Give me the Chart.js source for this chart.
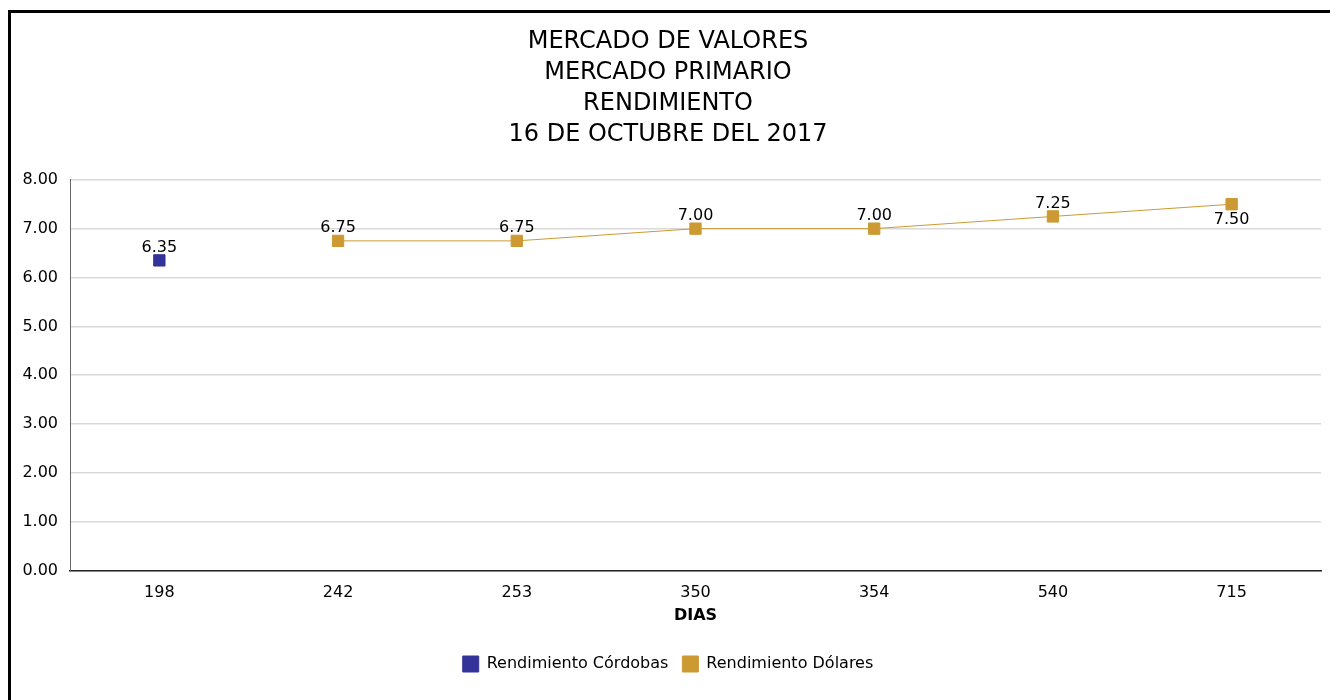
<!DOCTYPE html>
<html>
<head>
<meta charset="utf-8">
<script src="https://cdn.jsdelivr.net/npm/chart.js@4/dist/chart.umd.min.js"></script>
<style>
  body { margin: 0; background: #fff; overflow: hidden; }
  .frame { position: absolute; left: 8px; top: 10px; width: 1400px; height: 800px; border: 3px solid #000; }
  .wrap { position: absolute; left: 0; top: 0; width: 1330px; height: 700px; }
</style>
</head>
<body>
<div class="frame"></div>
<div class="wrap"><canvas id="myChart"></canvas></div>
<script>
const dias = ['198', '242', '253', '350', '354', '540', '715'];
const cordobas = [6.35, null, null, null, null, null, null];
const dolares = [null, 6.75, 6.75, 7.00, 7.00, 7.25, 7.50];
const yTicks = [0, 1, 2, 3, 4, 5, 6, 7, 8];

const fontFamily = '"DejaVu Sans", sans-serif';
Chart.defaults.font.family = fontFamily;
Chart.defaults.color = '#000';

// draws the value next to each point
const valueLabels = {
    id: 'valueLabels',
    afterDatasetsDraw(chart) {
        const c = chart.ctx;
        const area = chart.chartArea;
        c.save();
        c.font = '16px ' + fontFamily;
        c.fillStyle = '#000';
        c.textAlign = 'center';
        c.textBaseline = 'middle';
        chart.data.datasets.forEach((ds, i) => {
            chart.getDatasetMeta(i).data.forEach((pt, j) => {
                const v = ds.data[j];
                if (v === null) return;
                const below = pt.y - 30 < area.top;
                c.fillText(v.toFixed(2), pt.x, below ? pt.y + 16 : pt.y - 13);
            });
        });
        c.restore();
    }
};

const ctx = document.getElementById('myChart');

new Chart(ctx, {
    type: 'line',
    data: {
        labels: dias,
        datasets: [{
            label: 'Rendimiento Córdobas',
            data: cordobas,
            borderColor: '#333399',
            backgroundColor: '#333399',
            borderWidth: 1,
            pointStyle: 'rect',
            pointRadius: 8,
            pointHoverRadius: 8,
        }, {
            label: 'Rendimiento Dólares',
            data: dolares,
            borderColor: '#cc9933',
            backgroundColor: '#cc9933',
            borderWidth: 1,
            pointStyle: 'rect',
            pointRadius: 8,
            pointHoverRadius: 8,
        }]
    },
    options: {
        responsive: true,
        maintainAspectRatio: false,
        animation: false,
        layout: { padding: { left: 14, right: 8, top: 0, bottom: 18 } },
        plugins: {
            title: {
                display: true,
                text: ['MERCADO DE VALORES', 'MERCADO PRIMARIO', 'RENDIMIENTO', '16 DE OCTUBRE DEL 2017'],
                font: { size: 24, weight: 'normal', lineHeight: 1.3 },
                color: '#000',
                padding: { top: 26, bottom: 29 }
            },
            legend: {
                position: 'bottom',
                labels: {
                    usePointStyle: true,
                    pointStyle: 'rect',
                    boxWidth: 16,
                    boxHeight: 16,
                    font: { size: 16 },
                    color: '#000',
                    padding: 14
                }
            },
            tooltip: { enabled: false }
        },
        scales: {
            x: {
                offset: true,
                grid: { display: false, drawTicks: false },
                border: { color: '#222', width: 1.5 },
                ticks: { font: { size: 16 }, color: '#000', padding: 13 },
                title: {
                    display: true,
                    text: 'DIAS',
                    font: { size: 16, weight: 'bold' },
                    color: '#000',
                    padding: { top: -10, bottom: 17 }
                }
            },
            y: {
                min: 0,
                max: 8,
                afterFit(scale) { scale.width = 56; },
                afterBuildTicks(scale) { scale.ticks = yTicks.map(v => ({ value: v })); },
                grid: { color: '#d9d9d9', lineWidth: 1.5, drawTicks: false },
                border: { color: '#666', width: 1 },
                ticks: {
                    font: { size: 16 },
                    color: '#000',
                    padding: 12,
                    callback: v => v.toFixed(2)
                }
            }
        }
    },
    plugins: [valueLabels]
});
</script>
</body>
</html>
